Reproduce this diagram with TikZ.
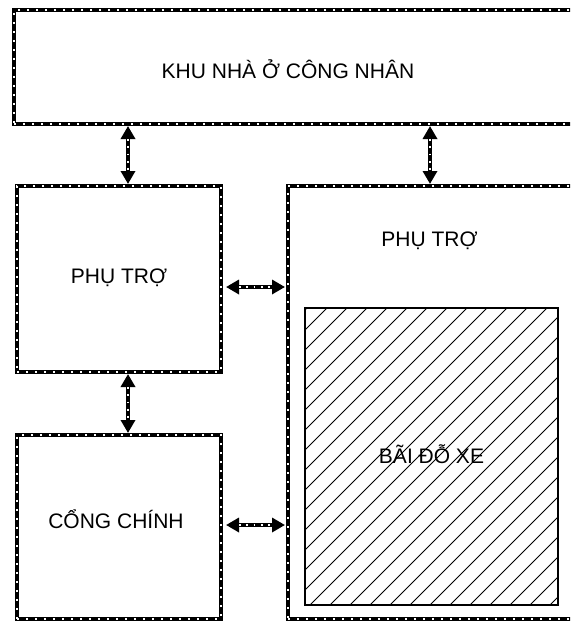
\documentclass[tikz,border=0pt]{standalone}
\usepackage{fontspec}
\setmainfont{Liberation Sans}
\usetikzlibrary{arrows.meta}
\begin{document}
\begin{tikzpicture}[x=1pt,y=-1pt,
  dbox/.style={draw=black, line width=3.6pt, inner sep=0pt, outer sep=0pt, anchor=north west,
    postaction={draw=white, line width=1.4pt, dash pattern=on 1.8pt off 7.2pt}},
  arr/.style={draw=black, line width=3.6pt, {Triangle[length=13pt,width=14pt]}-{Triangle[length=13pt,width=14pt]},
    postaction={draw=white, line width=1.4pt, dash pattern=on 1.8pt off 5.5pt, arrows=-, shorten <=13pt, shorten >=13pt}},
  lbl/.style={font=\fontsize{21}{25}\selectfont, inner sep=0pt},
  hatchbox/.style={draw=black, line width=1.8pt, inner sep=0pt, outer sep=0pt, anchor=north west}
]
\useasboundingbox (0,0) rectangle (570,623);
\clip (0,0) rectangle (570,623);
\fill[white] (0,0) rectangle (570,623);

% boxes
\node[dbox, minimum width=576pt, minimum height=114pt] (top) at (14,10) {};
\node[dbox, minimum width=204pt, minimum height=186pt] (left1) at (17,186) {};
\node[dbox, minimum width=204pt, minimum height=184pt] (left2) at (17,435) {};
\node[dbox, minimum width=302pt, minimum height=433pt] (right) at (288,186) {};

% hatched parking
\begin{scope}
  \clip (305,308) rectangle (558,605);
  \foreach \k in {0,...,28} {
    \pgfmathsetmacro{\c}{615+20*\k}
    \draw[line width=0.9pt] (\c-300,300) -- (\c-620,620);
  }
\end{scope}
\node[hatchbox, minimum width=253pt, minimum height=297pt] (park) at (305,308) {};

% labels
\node[lbl] (tkhu) at (288,69) {KHU NHÀ Ở CÔNG NHÂN};
\node[lbl] (tphu1) at (119,278) {PHỤ TRỢ};
\node[lbl] (tphu2) at (429.5,241) {PHỤ TRỢ};
\node[lbl] (tbai) at (431.5,454) {BÃI ĐỖ XE};
\node[lbl] (tcong) at (116,519) {CỔNG CHÍNH};

% connector end points
\coordinate (a1) at (128,126);
\coordinate (b1) at (128,184);
\coordinate (a2) at (430,126);
\coordinate (b2) at (430,184);
\coordinate (a3) at (128,374);
\coordinate (b3) at (128,433);
\coordinate (a4) at (226,287);
\coordinate (b4) at (285,287);
\coordinate (a5) at (226,525);
\coordinate (b5) at (285,525);

\draw[arr] (a1) -- (b1);
\draw[arr] (a2) -- (b2);
\draw[arr] (a3) -- (b3);
\draw[arr] (a4) -- (b4);
\draw[arr] (a5) -- (b5);
\end{tikzpicture}
\end{document}
